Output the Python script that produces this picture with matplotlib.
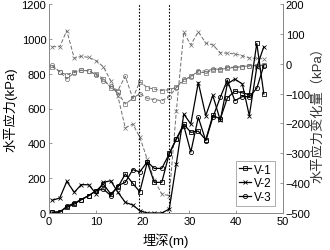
import matplotlib
matplotlib.use("Agg")
import matplotlib.pyplot as plt

plt.rcParams['font.family'] = ['Liberation Sans', 'Noto Sans CJK SC', 'DejaVu Sans']

depth = [0.7, 2.3, 3.8, 5.4, 6.9, 8.5, 10.1, 11.6, 13.2, 14.7, 16.3, 17.9, 19.4, 21.0, 22.5,
         24.1, 25.7, 27.2, 28.8, 30.3, 31.9, 33.5, 35.0, 36.6, 38.1, 39.7, 41.3, 42.8, 44.4, 45.9]

# horizontal stress (left axis, kPa)
v1_stress = [4, 8, 32, 51, 77, 100, 128, 166, 109, 147, 224, 170, 122, 292, 176,
             176, 342, 425, 511, 463, 470, 420, 560, 540, 660, 700, 690, 680, 974, 683]
v2_stress = [73, 86, 181, 119, 163, 162, 109, 176, 185, 120, 61, 46, 13, 0, 0,
             0, 23, 281, 568, 511, 749, 559, 675, 532, 741, 769, 741, 559, 837, 955]
v3_stress = [4, 4, 38, 57, 77, 100, 128, 138, 100, 157, 176, 249, 236, 294, 256,
             256, 340, 424, 501, 350, 549, 415, 549, 664, 763, 645, 668, 668, 716, 846]

# horizontal stress change (right axis, kPa)
v1_change = [-10, -27, -38, -27, -22, -24, -35, -50, -80, -96, -135, -116, -60, -80, -85,
             -90, -87, -79, -57, -42, -27, -31, -20, -20, -15, -13, -10, -8, -6, -5]
v2_change = [57, 57, 111, 18, 25, 21, 10, -10, -57, -108, -215, -202, -246, -320, -390,
             -436, -442, -160, 105, 63, 107, 69, 63, 37, 35, 33, 27, 19, 18, 16]
v3_change = [-5, -27, -51, -30, -22, -24, -38, -57, -75, -90, -42, -116, -100, -116, -120,
             -124, -110, -80, -51, -45, -23, -25, -18, -18, -12, -12, -10, -6, -6, -5]

boundaries = [19.3, 25.6]
legend_labels = ['V-1', 'V-2', 'V-3']

W, H = 330, 251
fig = plt.figure(figsize=(W / 100, H / 100), dpi=100)
ax = fig.add_axes([49 / W, 1 - 214 / H, 234 / W, 209 / H])
ax2 = ax.twinx()

grey = '#6e6e6e'
ms = 3
dkw = dict(color=grey, lw=0.7, ls=(0, (4, 2)))
ax2.plot(depth, v1_change, marker='s', ms=ms, mfc='none', mew=0.5, **dkw)
ax2.plot(depth, v2_change, marker='x', ms=ms, mew=0.5, **dkw)
ax2.plot(depth, v3_change, marker='o', ms=ms, mfc='none', mew=0.5, **dkw)

l1, = ax.plot(depth, v1_stress, color='black', lw=0.9, marker='s', ms=ms, mfc='none', mew=0.6)
l2, = ax.plot(depth, v2_stress, color='black', lw=0.9, marker='x', ms=ms, mew=0.6)
l3, = ax.plot(depth, v3_stress, color='black', lw=0.9, marker='o', ms=ms, mfc='none', mew=0.6)

for b in boundaries:
    ax.axvline(b, color='black', lw=0.8, ls=(0, (1.5, 1.5)))

ax.set_xlim(0, 50)
ax.set_ylim(0, 1200)
ax2.set_ylim(-500, 200)
ax.set_xticks(range(0, 51, 10))
ax.set_yticks(range(0, 1201, 200))
ax2.set_yticks(range(-500, 201, 100))

ax.set_zorder(ax2.get_zorder() + 1)
ax.patch.set_visible(False)

for a in (ax, ax2):
    for s in a.spines.values():
        s.set_color('#8a8a8a')
        s.set_linewidth(0.7)
    a.spines['top'].set_visible(False)
    a.tick_params(direction='in', length=2.5, width=0.6, color='#8a8a8a', labelsize=8, pad=2)

fig.text(166 / W, 1 - 241 / H, '埋深(m)', fontsize=9.5, ha='center', va='center')
fig.text(10 / W, 1 - 110 / H, '水平应力(kPa)', fontsize=9.5, rotation=90, ha='center', va='center')
fig.text(318 / W, 1 - 112 / H, '水平应力变化量（kPa）', fontsize=9.5, rotation=90,
         ha='center', va='center', color='#333333')

leg = ax.legend([l1, l2, l3], legend_labels, loc='lower right', fontsize=8.5,
                frameon=True, fancybox=False, edgecolor='#8a8a8a', handlelength=1.0,
                handletextpad=0.3, borderpad=0.25, labelspacing=0.15, borderaxespad=0,
                bbox_to_anchor=(275 / W, 1 - 207 / H), bbox_transform=fig.transFigure)
leg.get_frame().set_linewidth(0.6)

fig.savefig('out.png', dpi=100)
